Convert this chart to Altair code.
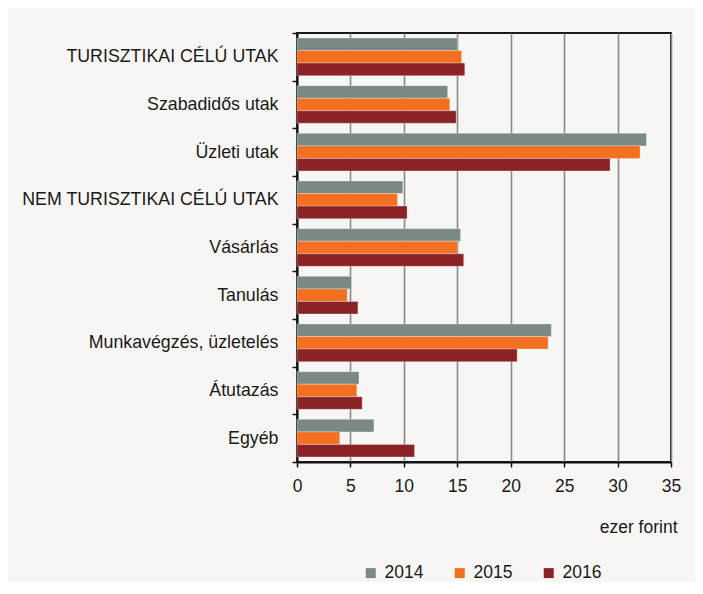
import altair as alt
import pandas as pd

categories = [
    "TURISZTIKAI CÉLÚ UTAK",
    "Szabadidős utak",
    "Üzleti utak",
    "NEM TURISZTIKAI CÉLÚ UTAK",
    "Vásárlás",
    "Tanulás",
    "Munkavégzés, üzletelés",
    "Átutazás",
    "Egyéb",
]
years = ["2014", "2015", "2016"]
v2014 = [15.0, 14.1, 32.7, 9.9, 15.3, 5.1, 23.8, 5.8, 7.2]
v2015 = [15.4, 14.3, 32.1, 9.4, 15.0, 4.7, 23.5, 5.6, 4.0]
v2016 = [15.7, 14.9, 29.3, 10.3, 15.6, 5.7, 20.6, 6.1, 11.0]
colors = ["#7a8a82", "#f37021", "#8b2326"]
x_ticks = [0, 5, 10, 15, 20, 25, 30, 35]

rows = []
for yr, vals in zip(years, [v2014, v2015, v2016]):
    for c, v in zip(categories, vals):
        rows.append({"category": c, "year": yr, "value": v})
df = pd.DataFrame(rows)

FONT = "Liberation Sans"

chart = alt.Chart(df).mark_bar(
    stroke="white", strokeWidth=0.6, strokeOpacity=0.5
).encode(
    x=alt.X(
        "value:Q",
        scale=alt.Scale(domain=[0, 35], nice=False),
        axis=alt.Axis(
            values=x_ticks,
            title="ezer forint",
            titleX=380,
            titleY=65,
            titleAlign="right",
            titleBaseline="middle",
            titleFontWeight="normal",
            titleFontSize=17.5,
            titleFont=FONT,
            titleColor="#1a1a1a",
            labelFontSize=17.5,
            labelFont=FONT,
            labelColor="#1a1a1a",
            labelPadding=10,
            tickSize=5,
            tickColor="#111111",
            tickWidth=1.5,
            domainColor="#111111",
            domainWidth=2,
            grid=True,
            gridColor="#8a8a8e",
            gridWidth=1.6,
            labelFlush=False,
        ),
    ),
    y=alt.Y(
        "category:N",
        sort=categories,
        scale=alt.Scale(paddingInner=0, paddingOuter=0),
        axis=alt.Axis(
            title=None,
            tickBand="extent",
            tickSize=5,
            tickColor="#111111",
            tickWidth=1.5,
            domainColor="#111111",
            domainWidth=2,
            labelFontSize=17.8,
            labelFont=FONT,
            labelColor="#1a1a1a",
            labelPadding=14,
            labelLimit=400,
            grid=False,
        ),
    ),
    yOffset=alt.YOffset(
        "year:N", sort=years, scale=alt.Scale(paddingInner=0, paddingOuter=0.4)
    ),
    color=alt.Color(
        "year:N",
        scale=alt.Scale(domain=years, range=colors),
        legend=alt.Legend(
            title=None,
            orient="none",
            legendX=65,
            legendY=531,
            direction="horizontal",
            columns=3,
            symbolType="square",
            symbolSize=100,
            symbolStrokeWidth=0,
            labelFontSize=17.5,
            labelFont=FONT,
            labelColor="#1a1a1a",
            labelOffset=5,
            columnPadding=27,
            padding=0,
        ),
    ),
).properties(
    width=374,
    height=429,
    background="#f7f6f4",
    autosize=alt.AutoSizeParams(type="none"),
    padding={"left": 289, "top": 25, "right": 24, "bottom": 120},
).configure_view(
    stroke="#1a1a1a", strokeWidth=2, fill="#f7f6f4"
)

chart.save("out.html", embed_options={"renderer": "svg", "actions": False})
